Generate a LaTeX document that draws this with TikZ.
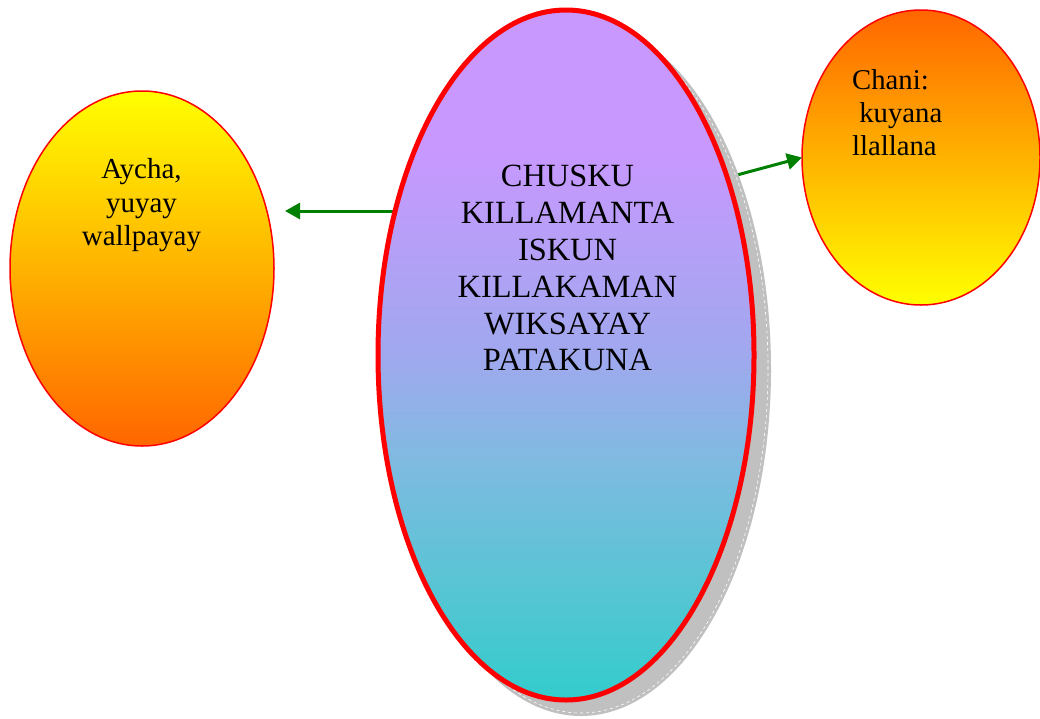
\documentclass[tikz,border=0pt]{standalone}
\usepackage{fontspec}
\setmainfont{Liberation Serif}
\usetikzlibrary{arrows.meta,shapes.geometric,backgrounds}
\definecolor{lav}{RGB}{200,152,255}
\definecolor{teal2}{RGB}{51,204,204}
\definecolor{cA}{RGB}{95,195,214}
\definecolor{cB}{RGB}{130,185,226}
\definecolor{cC}{RGB}{160,168,238}
\definecolor{yel}{RGB}{255,255,0}
\definecolor{org}{RGB}{255,102,0}
\definecolor{shd}{RGB}{192,192,192}
\definecolor{grn}{RGB}{0,128,0}
\pgfdeclareverticalshading{mainsh}{100bp}{color(0bp)=(teal2); color(25bp)=(teal2); color(35bp)=(cA); color(43bp)=(cB); color(50bp)=(cC); color(65bp)=(lav); color(100bp)=(lav)}
\tikzset{
  oval/.style={ellipse, inner sep=0pt, outer sep=0pt},
  conn/.style={draw=grn, line width=3pt, -{Triangle[length=15pt,width=16pt]}},
}
\begin{document}
\begin{tikzpicture}[x=1pt,y=-1pt]
\useasboundingbox (0,0) rectangle (1040,718);
% shadow
\node[oval, fill=shd, minimum width=380pt, minimum height=694pt] (S) at (581,369) {};
\node[oval, draw=white, dashed, line width=0.6pt, minimum width=374pt, minimum height=688pt] (Sw) at (581,369) {};
% main
\node[oval, draw=red, line width=5pt, shade, shading=mainsh,
      minimum width=376pt, minimum height=690pt] (C) at (566,355) {};
\node[inner sep=0pt, align=center, font=\fontsize{32.4}{36.8}\selectfont] (Ct) at (567.5,268.3)
  {CHUSKU\\KILLAMANTA\\ISKUN\\KILLAKAMAN\\WIKSAYAY\\PATAKUNA};
% left
\node[oval, draw=red, line width=1.5pt, top color=yel, bottom color=org,
      minimum width=264pt, minimum height=355pt] (L) at (142,268.5) {};
\node[inner sep=0pt, align=center, font=\fontsize{29}{33.5}\selectfont] (Lt) at (141.5,205.5)
  {Aycha,\\yuyay\\wallpayay};
% right
\node[oval, draw=red, line width=1.5pt, top color=org, bottom color=yel,
      minimum width=238pt, minimum height=295pt] (R) at (921,157.5) {};
\node[inner sep=0pt, align=left, anchor=west, font=\fontsize{28.7}{33}\selectfont] (Rt) at (852,113)
  {Chani:\\\hspace*{0.25em}kuyana\\llallana};
% connectors
\coordinate (la) at (285,211);
\begin{pgfonlayer}{background}
\draw[conn] (la -| C.center) -- (la);
\end{pgfonlayer}
\draw[conn] (S.51.6) -- (R.west);
\end{tikzpicture}
\end{document}
